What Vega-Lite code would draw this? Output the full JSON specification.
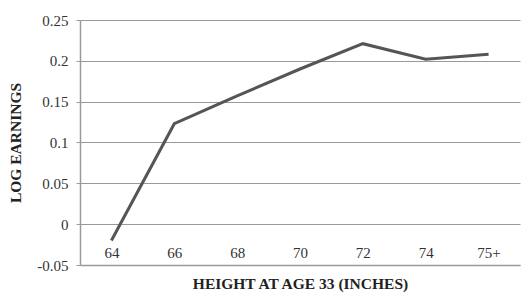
{
  "$schema": "https://vega.github.io/schema/vega-lite/v6.json",
  "autosize": {"type": "none"},
  "width": 440,
  "height": 245,
  "padding": {"left": 80, "top": 20, "right": 3, "bottom": 34},
  "background": "white",
  "data": {"values": [
    {"height": "64", "log_earnings": -0.02},
    {"height": "66", "log_earnings": 0.123},
    {"height": "68", "log_earnings": 0.157},
    {"height": "70", "log_earnings": 0.19},
    {"height": "72", "log_earnings": 0.221},
    {"height": "74", "log_earnings": 0.202},
    {"height": "75+", "log_earnings": 0.208}
  ]},
  "mark": {"type": "line", "color": "#555555", "strokeWidth": 3, "strokeJoin": "miter"},
  "encoding": {
    "x": {
      "field": "height", "type": "ordinal", "sort": null,
      "scale": {"type": "point", "padding": 0.5},
      "axis": {
        "title": "HEIGHT AT AGE 33 (INCHES)",
        "labelAngle": 0, "ticks": false, "domain": true, "domainColor": "#9a9a9a", "domainWidth": 1.5,
        "labelPadding": -20, "labelFont": "Liberation Serif", "labelFontSize": 15, "labelColor": "#333333",
        "titleFont": "Liberation Serif", "titleFontSize": 15.5, "titleFontWeight": "bold", "titleColor": "#222222",
        "titlePadding": 11, "grid": false
      }
    },
    "y": {
      "field": "log_earnings", "type": "quantitative",
      "scale": {"domain": [-0.05, 0.25], "nice": false, "zero": false},
      "axis": {
        "title": "LOG EARNINGS",
        "values": [-0.05, 0, 0.05, 0.1, 0.15, 0.2, 0.25],
        "labelExpr": "datum.value == 0 ? '0' : (datum.value < 0 ? '-' : '') + format(abs(datum.value), '.2~f')",
        "grid": true, "gridColor": "#9a9a9a", "gridWidth": 1.2,
        "domain": true, "domainColor": "#9a9a9a", "domainWidth": 1.5,
        "ticks": true, "tickSize": 4, "tickColor": "#9a9a9a",
        "labelPadding": 8, "labelFont": "Liberation Serif", "labelFontSize": 15, "labelColor": "#333333",
        "titleFont": "Liberation Serif", "titleFontSize": 15.5, "titleFontWeight": "bold", "titleColor": "#222222",
        "titlePadding": 13
      }
    }
  },
  "config": {"view": {"stroke": null}}
}
